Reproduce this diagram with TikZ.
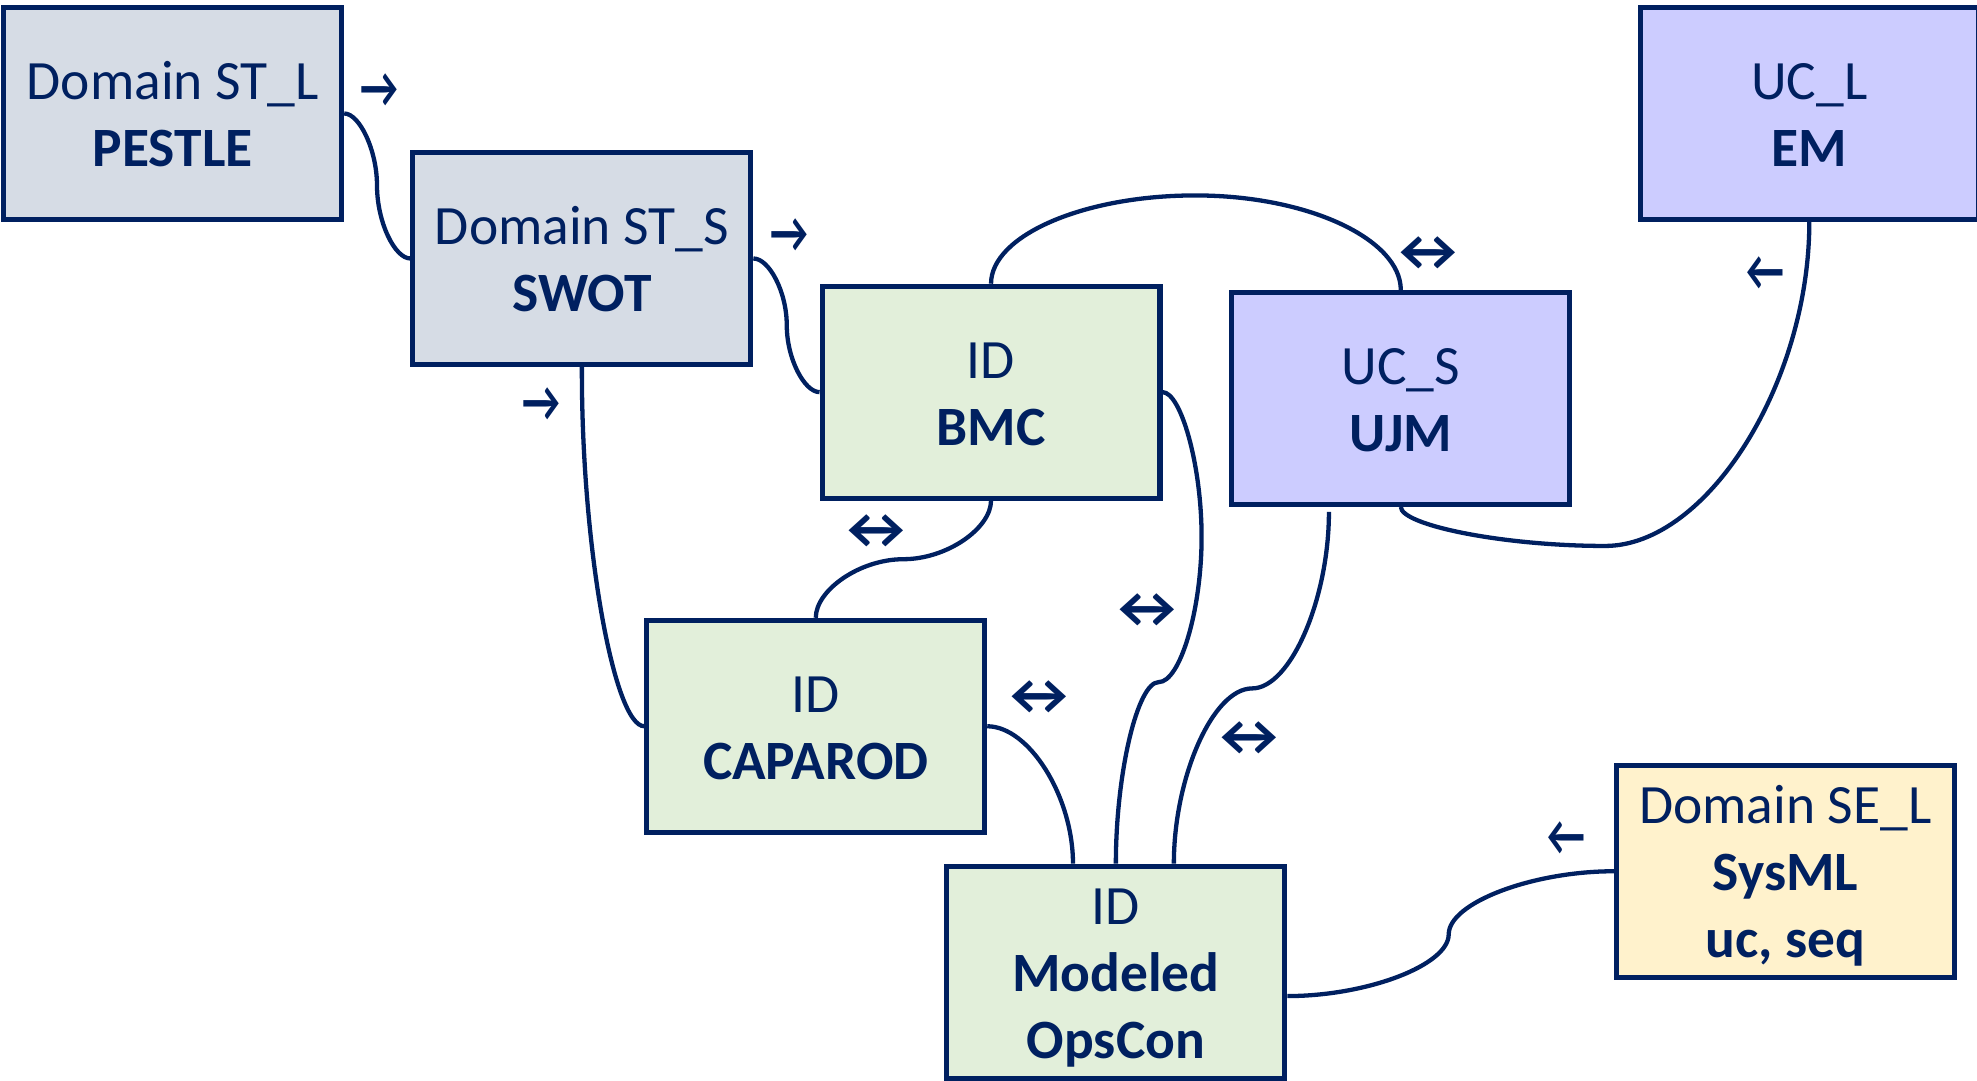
\documentclass[tikz,border=0pt]{standalone}
\usepackage{fontspec}
\setmainfont{Carlito}
\usetikzlibrary{calc}
\definecolor{navy}{HTML}{002060}
\definecolor{stfill}{HTML}{D6DCE5}
\definecolor{idfill}{HTML}{E2EFDA}
\definecolor{ucfill}{HTML}{CCCCFF}
\definecolor{sefill}{HTML}{FFF2CC}
\newcommand\lstr{\rule[-11pt]{0pt}{53pt}}
\newcommand\rarr{\scalebox{0.72}[1]{→}}
\newcommand\larr{\scalebox{0.72}[1]{←}}
\newcommand\barr{\scalebox{1.1}[1]{↔}}
\tikzset{
  box/.style={draw=navy, line width=4pt, minimum width=268pt, minimum height=168pt,
    inner sep=0pt, align=center, text=navy, font=\fontsize{44}{53}\selectfont},
  conn/.style={draw=navy, line width=3.4pt},
  arr/.style={text=navy, inner sep=0pt, font=\fontsize{46}{53}\selectfont\bfseries}
}
\begin{document}
\begin{tikzpicture}[x=1pt,y=-1pt]
\useasboundingbox (0,0) rectangle (1568,857);
% boxes
\node[box, fill=stfill] (pestle) at (137,90) {\lstr Domain ST\_L\\\lstr\textbf{PESTLE}};
\node[box, fill=stfill] (swot) at (461.5,205) {\lstr Domain ST\_S\\\lstr\textbf{SWOT}};
\node[box, fill=idfill] (bmc) at (786,311) {\lstr ID\\\lstr\textbf{BMC}};
\node[box, fill=ucfill] (ucs) at (1111,316) {\lstr UC\_S\\\lstr\textbf{UJM}};
\node[box, fill=ucfill] (ucl) at (1435,90) {\lstr UC\_L\\\lstr\textbf{EM}};
\node[box, fill=idfill] (cap) at (647,576) {\lstr ID\\\lstr\textbf{CAPAROD}};
\node[box, fill=idfill] (ops) at (885,771) {\lstr ID\\\lstr\textbf{Modeled}\\\lstr\textbf{OpsCon}};
\node[box, fill=sefill] (sysml) at (1416,691) {\lstr Domain SE\_L\\\lstr\textbf{SysML}\\\lstr\textbf{uc, seq}};
% connectors
\draw[conn] (pestle.east) .. controls (285,90) and (299,119) .. (299,147)
  .. controls (299,176) and (313,205) .. (swot.west);
\draw[conn] (swot.east) .. controls (610,205) and (624,231.5) .. (624,258)
  .. controls (624,284.5) and (638,311) .. (bmc.west);
\draw[conn] (swot.south) .. controls (461,432) and (487,576) .. (cap.west);
\draw[conn] (bmc.south) .. controls (786,419) and (751,443.5) .. (716.5,443.5)
  .. controls (682,443.5) and (647,468) .. (cap.north);
\draw[conn] (bmc.north) .. controls (786,187) and (859,155) .. (948,155)
  .. controls (1038,155) and (1111,190) .. (ucs.north);
\draw[conn] (bmc.east) .. controls (936.5,311) and (953,368.5) .. (953,426)
  .. controls (953,483.5) and (936,541) .. (919,541)
  .. controls (902,541) and (885,614) .. (ops.north);
\coordinate (ucsb) at ($(ucs.south)+(-57,4)$);
\draw[conn] (ucsb) .. controls (1054,475) and (1023.5,546) .. (993,546)
  .. controls (962,546) and (931,616.5) .. ($(ops.north)+(46,0)$);
\draw[conn] (ucs.south) .. controls (1111,416.5) and (1192,433) .. (1273,433)
  .. controls (1354,433) and (1435,303.5) .. (ucl.south);
\draw[conn] (cap.east) .. controls (816,576) and (851,631.5) .. ($(ops.north)+(-34,0)$);
\draw[conn] (sysml.west) .. controls (1215.5,691) and (1149,716) .. (1149,741)
  .. controls (1149,765.5) and (1084,790) .. ($(ops.east)+(0,19)$);
% arrow labels
\node[arr] (a1) at (301,72) {\rarr};
\node[arr] (a2) at (626,187) {\rarr};
\node[arr] (a3) at (429,321) {\rarr};
\node[arr] (a4) at (695,422) {\barr};
\node[arr] (a5) at (1133,201) {\barr};
\node[arr] (a6) at (910,484) {\barr};
\node[arr] (a7) at (824,553) {\barr};
\node[arr] (a8) at (991,586) {\barr};
\node[arr] (a9) at (1400,217) {\larr};
\node[arr] (a10) at (1242,665) {\larr};
\end{tikzpicture}
\end{document}
